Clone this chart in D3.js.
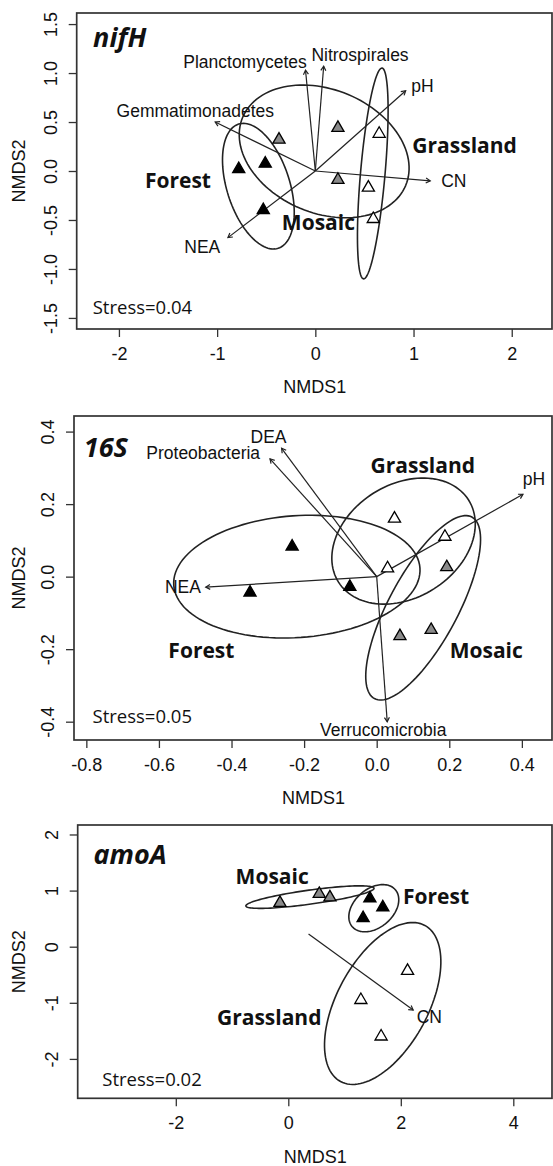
<!DOCTYPE html>
<html lang="en">
<head>
<meta charset="UTF-8">
<title>NMDS ordinations</title>
<script src="https://d3js.org/d3.v7.min.js"></script>
<style>
  body { margin: 0; background: #fff; }
  svg { display: block; }
</style>
</head>
<body>
<div id="chart"></div>
<script>
// ---- nifH ----
const nifhGroup = ["Forest", "Forest", "Forest", "Mosaic", "Mosaic", "Mosaic", "Grassland", "Grassland", "Grassland"];
const nifhX = [-0.78, -0.51, -0.53, -0.37, 0.23, 0.23, 0.65, 0.54, 0.59];
const nifhY = [0.02, 0.075, -0.40, 0.32, 0.44, -0.09, 0.38, -0.17, -0.49];
const nifhVec = ["Planctomycetes", "Nitrospirales", "pH", "Gemmatimonadetes", "CN", "NEA"];
const nifhVecX = [-0.10, 0.085, 0.92, -1.02, 1.17, -0.89];
const nifhVecY = [1.03, 1.07, 0.82, 0.50, -0.10, -0.68];
const nifhVecLabX = [-0.716, 0.455, 1.09, -1.222, 1.41, -1.151];
const nifhVecLabY = [1.119, 1.188, 0.874, 0.609, -0.105, -0.776];
const nifhEllGroup = ["Forest", "Mosaic", "Grassland"];
const nifhEllCx = [-0.58, 0.09, 0.585];
const nifhEllCy = [-0.155, 0.20, -0.025];
const nifhEllA = [0.665, 0.90, 1.08];
const nifhEllB = [0.32, 0.63, 0.125];
const nifhEllAngle = [107.6, -22.8, 85];
const nifhLabX = [-1.735, -0.341, 0.988];
const nifhLabY = [-0.177, -0.605, 0.184];
const nifhXTicks = [-2, -1, 0, 1, 2];
const nifhYTicks = [-1.5, -1.0, -0.5, 0.0, 0.5, 1.0, 1.5];

// ---- 16S ----
const s16Group = ["Forest", "Forest", "Forest", "Mosaic", "Mosaic", "Mosaic", "Grassland", "Grassland", "Grassland"];
const s16X = [-0.233, -0.349, -0.074, 0.193, 0.064, 0.150, 0.049, 0.030, 0.188];
const s16Y = [0.083, -0.044, -0.028, 0.026, -0.164, -0.147, 0.160, 0.023, 0.110];
const s16Vec = ["DEA", "Proteobacteria", "pH", "NEA", "Verrucomicrobia"];
const s16VecX = [-0.262, -0.294, 0.403, -0.471, 0.029];
const s16VecY = [0.354, 0.325, 0.227, -0.029, -0.400];
const s16VecLabX = [-0.298, -0.478, 0.433, -0.534, 0.018];
const s16VecLabY = [0.386, 0.340, 0.269, -0.029, -0.423];
const s16EllGroup = ["Forest", "Mosaic", "Grassland"];
const s16EllCx = [-0.22, 0.128, 0.074];
const s16EllCy = [0.0, -0.086, 0.098];
const s16EllA = [0.34, 0.284, 0.212];
const s16EllB = [0.168, 0.095, 0.156];
const s16EllAngle = [4, 61.8, 32.3];
const s16LabX = [-0.574, 0.201, -0.017];
const s16LabY = [-0.225, -0.223, 0.287];
const s16XTicks = [-0.8, -0.6, -0.4, -0.2, 0.0, 0.2, 0.4];
const s16YTicks = [-0.4, -0.2, 0.0, 0.2, 0.4];

// ---- amoA ----
const amoGroup = ["Forest", "Forest", "Forest", "Mosaic", "Mosaic", "Mosaic", "Grassland", "Grassland", "Grassland"];
const amoX = [1.45, 1.68, 1.33, -0.148, 0.55, 0.74, 2.12, 1.29, 1.65];
const amoY = [0.86, 0.70, 0.51, 0.78, 0.94, 0.88, -0.43, -0.95, -1.60];
const amoVec = ["CN"];
const amoVecX0 = [0.36];
const amoVecY0 = [0.226];
const amoVecX = [2.22];
const amoVecY = [-1.13];
const amoVecLabX = [2.508];
const amoVecLabY = [-1.258];
const amoEllGroup = ["Forest", "Mosaic", "Grassland"];
const amoEllCx = [1.52, 0.385, 1.678];
const amoEllCy = [0.686, 0.884, -1.012];
const amoEllA = [0.505, 1.15, 1.58];
const amoEllB = [0.345, 0.125, 0.81];
const amoEllAngle = [40.8, 7.9, 61.7];
const amoLabX = [2.039, -0.937, -1.268];
const amoLabY = [0.756, 1.118, -1.396];
const amoXTicks = [-2, 0, 2, 4];
const amoYTicks = [-2, -1, 0, 1, 2];

const groupNames = ["Forest", "Mosaic", "Grassland"];
const groupFill = { Forest: "#000", Mosaic: "#8a8a8a", Grassland: "#fff" };

const W = 553, H = 1166;
const svg = d3.select("#chart").append("svg").attr("width", W).attr("height", H);
svg.append("rect").attr("width", W).attr("height", H).attr("fill", "#fff");

const zip = (...arrs) => arrs[0].map((_, i) => arrs.map(a => a[i]));

const panels = [
  {
    title: "nifH", stress: "Stress=0.04",
    box: { left: 76.7, right: 552, top: 13, bottom: 329 },
    xDomain: [-2.43, 2.41], yDomain: [-1.613, 1.613],
    titlePos: [-2.263, 1.265], stressPos: [-2.267, -1.462],
    xTicks: nifhXTicks, yTicks: nifhYTicks, yFmt: d3.format(".1f"), xFmt: d3.format("d"),
    points: zip(nifhX, nifhY, nifhGroup),
    vectors: zip(nifhVec, nifhVec.map(() => 0), nifhVec.map(() => 0), nifhVecX, nifhVecY, nifhVecLabX, nifhVecLabY),
    ellipses: zip(nifhEllGroup, nifhEllCx, nifhEllCy, nifhEllA, nifhEllB, nifhEllAngle),
    labels: zip(groupNames, nifhLabX, nifhLabY)
  },
  {
    title: "16S", stress: "Stress=0.05",
    box: { left: 74, right: 552, top: 416, bottom: 740 },
    xDomain: [-0.834, 0.483], yDomain: [-0.4505, 0.443],
    titlePos: [-0.807, 0.329], stressPos: [-0.783, -0.404],
    xTicks: s16XTicks, yTicks: s16YTicks, yFmt: d3.format(".1f"), xFmt: d3.format(".1f"),
    points: zip(s16X, s16Y, s16Group),
    vectors: zip(s16Vec, s16Vec.map(() => 0), s16Vec.map(() => 0), s16VecX, s16VecY, s16VecLabX, s16VecLabY),
    ellipses: zip(s16EllGroup, s16EllCx, s16EllCy, s16EllA, s16EllB, s16EllAngle),
    labels: zip(groupNames, s16LabX, s16LabY)
  },
  {
    title: "amoA", stress: "Stress=0.02",
    box: { left: 77.7, right: 552, top: 825, bottom: 1098.3 },
    xDomain: [-3.744, 4.688], yDomain: [-2.702, 2.169],
    titlePos: [-3.463, 1.474], stressPos: [-3.307, -2.483],
    xTicks: amoXTicks, yTicks: amoYTicks, yFmt: d3.format("d"), xFmt: d3.format("d"),
    points: zip(amoX, amoY, amoGroup),
    vectors: zip(amoVec, amoVecX0, amoVecY0, amoVecX, amoVecY, amoVecLabX, amoVecLabY),
    ellipses: zip(amoEllGroup, amoEllCx, amoEllCy, amoEllA, amoEllB, amoEllAngle),
    labels: zip(groupNames, amoLabX, amoLabY)
  }
];

const tri = d3.symbol().type(d3.symbolTriangle).size(64);
const sans = "'Liberation Sans', Arial, Helvetica, sans-serif";
const calib = "'Open Sans', 'Noto Sans', sans-serif";

panels.forEach(p => {
  const b = p.box;
  const x = d3.scaleLinear().domain(p.xDomain).range([b.left, b.right]);
  const y = d3.scaleLinear().domain(p.yDomain).range([b.bottom, b.top]);
  const g = svg.append("g");

  // axes
  const xAx = g.append("g").attr("transform", `translate(0,${b.bottom})`)
    .call(d3.axisBottom(x).tickValues(p.xTicks).tickFormat(p.xFmt).tickSize(8).tickSizeOuter(0));
  xAx.select(".domain").remove();
  xAx.selectAll(".tick line").attr("stroke", "#333").attr("stroke-width", 1.3);
  xAx.selectAll(".tick text").attr("y", 30.5).attr("dy", null)
    .attr("font-family", sans).attr("font-size", 18).attr("fill", "#111")
    .text(d => p.xFmt(d).replace("−", "-"));

  const yAx = g.append("g").attr("transform", `translate(${b.left},0)`)
    .call(d3.axisLeft(y).tickValues(p.yTicks).tickFormat(p.yFmt).tickSize(8).tickSizeOuter(0));
  yAx.select(".domain").remove();
  yAx.selectAll(".tick line").attr("stroke", "#333").attr("stroke-width", 1.3);
  yAx.selectAll(".tick text").attr("x", 0).attr("y", 0).attr("dy", "0.35em")
    .attr("transform", "translate(-26,0) rotate(-90)").attr("text-anchor", "middle")
    .attr("font-family", sans).attr("font-size", 18).attr("fill", "#111")
    .text(d => p.yFmt(d).replace("−", "-"));

  g.append("text").attr("x", (b.left + 553) / 2).attr("y", b.bottom + 58).attr("dy", "0.35em")
    .attr("text-anchor", "middle").attr("font-family", sans).attr("font-size", 18).attr("fill", "#111")
    .text("NMDS1");
  g.append("text").attr("transform", `translate(19,${(b.top + b.bottom) / 2}) rotate(-90)`)
    .attr("dy", "0.35em").attr("text-anchor", "middle").attr("font-family", sans).attr("font-size", 18)
    .attr("fill", "#111").text("NMDS2");

  // frame
  g.append("rect").attr("x", b.left).attr("y", b.top).attr("width", b.right - b.left).attr("height", b.bottom - b.top)
    .attr("fill", "none").attr("stroke", "#333").attr("stroke-width", 1.7);

  // ellipses
  const line = d3.line().x(d => x(d[0])).y(d => y(d[1])).curve(d3.curveLinearClosed);
  p.ellipses.forEach(([grp, cx, cy, a, bb, ang]) => {
    const th = ang * Math.PI / 180;
    const pts = d3.range(120).map(i => {
      const t = i / 120 * 2 * Math.PI;
      return [cx + a * Math.cos(t) * Math.cos(th) - bb * Math.sin(t) * Math.sin(th),
              cy + a * Math.cos(t) * Math.sin(th) + bb * Math.sin(t) * Math.cos(th)];
    });
    g.append("path").attr("d", line(pts)).attr("fill", "none").attr("stroke", "#222").attr("stroke-width", 1.6);
  });

  // vectors
  p.vectors.forEach(([name, x0, y0, x1, y1, lx, ly]) => {
    const px0 = x(x0), py0 = y(y0), px1 = x(x1), py1 = y(y1);
    const ang = Math.atan2(py1 - py0, px1 - px0);
    const hl = 5, ha = Math.PI / 6;
    g.append("line").attr("x1", px0).attr("y1", py0).attr("x2", px1).attr("y2", py1)
      .attr("stroke", "#222").attr("stroke-width", 1.2);
    g.append("path")
      .attr("d", `M${px1 - hl * Math.cos(ang - ha)},${py1 - hl * Math.sin(ang - ha)}L${px1},${py1}L${px1 - hl * Math.cos(ang + ha)},${py1 - hl * Math.sin(ang + ha)}`)
      .attr("fill", "none").attr("stroke", "#222").attr("stroke-width", 1.2);
    g.append("text").attr("x", x(lx)).attr("y", y(ly)).attr("dy", "0.35em").attr("text-anchor", "middle")
      .attr("font-family", sans).attr("font-size", 17.5).attr("fill", "#111").text(name);
  });

  // points
  g.selectAll(".pt").data(p.points).join("path")
    .attr("transform", d => `translate(${x(d[0])},${y(d[1])})`)
    .attr("d", tri)
    .attr("fill", d => groupFill[d[2]])
    .attr("stroke", "#000").attr("stroke-width", 1.3);

  // group labels
  p.labels.forEach(([name, lx, ly]) => {
    g.append("text").attr("x", x(lx)).attr("y", y(ly))
      .attr("font-family", calib).attr("font-weight", 700).attr("font-size", 21).attr("fill", "#111").text(name);
  });

  g.append("text").attr("x", x(p.titlePos[0])).attr("y", y(p.titlePos[1]))
    .attr("font-family", calib).attr("font-weight", 700).attr("font-style", "italic")
    .attr("font-size", 27).attr("fill", "#111").text(p.title);
  g.append("text").attr("x", x(p.stressPos[0])).attr("y", y(p.stressPos[1]))
    .attr("font-family", calib).attr("font-size", 18.5).attr("fill", "#111").text(p.stress);
});
</script>
</body>
</html>
